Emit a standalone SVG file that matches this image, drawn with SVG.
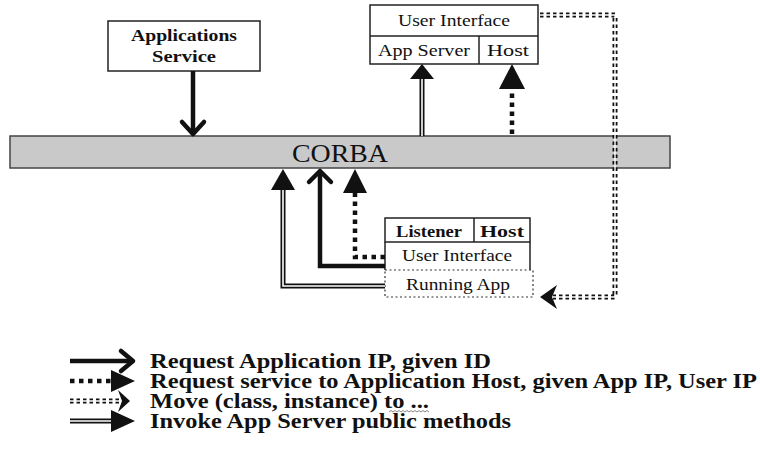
<svg xmlns="http://www.w3.org/2000/svg" width="760" height="461" viewBox="0 0 760 461">
  <style>
    .box { fill: #fff; stroke: #222; stroke-width: 1.5; }
    .edge { fill: none; stroke: #222; stroke-width: 1.5; }
    .lbl { font-family: "Liberation Serif", "Times New Roman", serif; font-size: 17px; fill: #111; text-anchor: middle; }
    .bold { font-weight: bold; }
    .leg { font-family: "Liberation Serif", "Times New Roman", serif; font-size: 20px; font-weight: bold; fill: #111; }
    .solid { fill: none; stroke: #111; stroke-width: 4.5; }
    .dots { fill: none; stroke: #111; stroke-width: 4.5; stroke-dasharray: 4.5 4.5; }
    .dbl-out { fill: none; stroke: #111; stroke-width: 5; }
    .dbl-in { fill: none; stroke: #fff; stroke-width: 1.6; }
    .mv-out { fill: none; stroke: #111; stroke-width: 5; stroke-dasharray: 3.5 3; }
    .mv-in { fill: none; stroke: #fff; stroke-width: 1.4; }
    .head { fill: #111; }
    .chev { fill: none; stroke: #111; stroke-width: 4.5; stroke-linecap: round; stroke-linejoin: round; }
  </style>

  <!-- CORBA bus -->
  <g id="corba">
    <rect x="10" y="136" width="660" height="32" fill="#c9c9c9" stroke="#444" stroke-width="1.5"/>
    <text class="lbl" x="340" y="162" style="font-size:25px" textLength="96" lengthAdjust="spacingAndGlyphs">CORBA</text>
  </g>

  <!-- Applications Service -->
  <g id="apps-service">
    <rect class="box" x="108" y="21" width="152" height="50"/>
    <text class="lbl bold" x="184" y="41" textLength="106" lengthAdjust="spacingAndGlyphs">Applications</text>
    <text class="lbl bold" x="184" y="62" textLength="64" lengthAdjust="spacingAndGlyphs">Service</text>
  </g>

  <!-- Upper user interface: App Server / Host -->
  <g id="ui-top">
    <rect class="box" x="370" y="5" width="168" height="59"/>
    <line class="edge" x1="370" y1="36" x2="538" y2="36"/>
    <line class="edge" x1="479" y1="36" x2="479" y2="64"/>
    <text class="lbl" x="454" y="26" textLength="112" lengthAdjust="spacingAndGlyphs">User Interface</text>
    <text class="lbl" x="424" y="56" textLength="92" lengthAdjust="spacingAndGlyphs">App Server</text>
    <text class="lbl" x="508" y="56" textLength="42" lengthAdjust="spacingAndGlyphs">Host</text>
  </g>

  <!-- Lower user interface: Listener / Host / Running App -->
  <g id="ui-bottom">
    <rect class="box" x="385" y="218" width="145" height="24"/>
    <line class="edge" x1="474" y1="218" x2="474" y2="242"/>
    <line class="edge" x1="385" y1="242" x2="385" y2="270"/>
    <line class="edge" x1="530" y1="242" x2="530" y2="270"/>
    <rect x="385" y="270" width="148" height="27" fill="none" stroke="#333" stroke-width="1.2" stroke-dasharray="2 2.5"/>
    <text class="lbl bold" x="429" y="237" textLength="66" lengthAdjust="spacingAndGlyphs">Listener</text>
    <text class="lbl bold" x="502" y="237" textLength="44" lengthAdjust="spacingAndGlyphs">Host</text>
    <text class="lbl" x="457" y="261" textLength="110" lengthAdjust="spacingAndGlyphs">User Interface</text>
    <text class="lbl" x="458" y="290" textLength="104" lengthAdjust="spacingAndGlyphs">Running App</text>
  </g>

  <!-- Connectors -->
  <g id="connectors">
    <!-- Applications Service -> CORBA -->
    <line class="solid" x1="193" y1="71" x2="193" y2="133"/>
    <polyline class="chev" points="182,122 193,134 204,122"/>

    <!-- CORBA -> App Server (invoke) -->
    <line class="dbl-out" x1="422" y1="136" x2="422" y2="77"/>
    <line class="dbl-in" x1="422" y1="136" x2="422" y2="76"/>
    <polygon class="head" points="422,64 410,79 434,79"/>

    <!-- CORBA -> Host (service request) -->
    <line class="dots" x1="512" y1="134" x2="512" y2="89"/>
    <polygon class="head" points="512,64 499,89 525,89"/>

    <!-- Move: upper UI -> Running App -->
    <path class="mv-out" d="M540,15 H615 V297 H553"/>
    <path class="mv-in" d="M540,15 H615 V297 H553"/>
    <polygon class="head" points="540,297 557,285 552,297 557,309"/>

    <!-- Running App -> CORBA (invoke) -->
    <path class="dbl-out" d="M385,286 H283 V189"/>
    <path class="dbl-in" d="M385,286 H283 V188"/>
    <polygon class="head" points="283,169 271,190 295,190"/>

    <!-- User Interface -> CORBA (request app IP) -->
    <path class="solid" d="M385,266 H320 V172"/>
    <polyline class="chev" points="309,182 320,171 331,182"/>

    <!-- Listener side -> CORBA (service request) -->
    <path class="dots" d="M385,257 H355 V193"/>
    <polygon class="head" points="355,169 343,193 367,193"/>
  </g>

  <!-- Legend -->
  <g id="legend">
    <line class="solid" x1="70" y1="361" x2="131" y2="361"/>
    <polyline class="chev" points="121,351 133,361 121,371"/>
    <text class="leg" x="150" y="368" textLength="341" lengthAdjust="spacingAndGlyphs">Request Application IP, given ID</text>

    <line class="dots" x1="70" y1="381" x2="112" y2="381"/>
    <polygon class="head" points="135,381 111,370 111,392"/>
    <text class="leg" x="150" y="388" textLength="607" lengthAdjust="spacingAndGlyphs">Request service to Application Host, given App IP, User IP</text>

    <line class="mv-out" x1="70" y1="401" x2="120" y2="401"/>
    <line class="mv-in" x1="70" y1="401" x2="120" y2="401"/>
    <polygon class="head" points="130,401 118,390 122,401 118,412"/>
    <text class="leg" x="150" y="408" textLength="279" lengthAdjust="spacingAndGlyphs">Move (class, instance) to ...</text>
    <!-- spell-check squiggle under "to ..." -->
    <path d="M389,412 l2,-1.5 l2,1.5 l2,-1.5 l2,1.5 l2,-1.5 l2,1.5 l2,-1.5 l2,1.5 l2,-1.5 l2,1.5 l2,-1.5 l2,1.5 l2,-1.5 l2,1.5 l2,-1.5 l2,1.5 l2,-1.5 l2,1.5 l2,-1.5 l2,1.5" fill="none" stroke="#888" stroke-width="1"/>

    <line class="dbl-out" x1="70" y1="421" x2="113" y2="421"/>
    <line class="dbl-in" x1="70" y1="421" x2="114" y2="421"/>
    <polygon class="head" points="135,421 111,410 111,432"/>
    <text class="leg" x="150" y="428" textLength="361" lengthAdjust="spacingAndGlyphs">Invoke App Server public methods</text>
  </g>
</svg>
